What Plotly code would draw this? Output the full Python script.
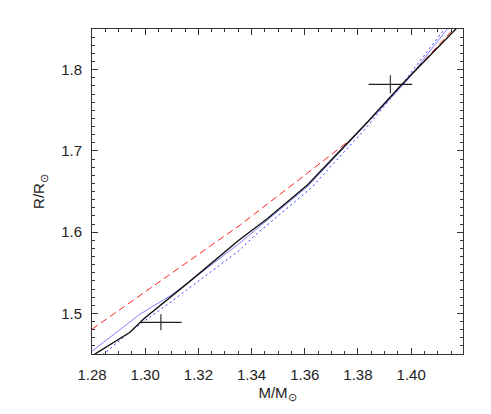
import plotly.graph_objects as go

# Black solid model
black_m = [1.2800, 1.2943, 1.2994, 1.3170, 1.3352, 1.3459, 1.3610, 1.3837, 1.3962, 1.4163, 1.4180]
black_r = [1.4477, 1.4767, 1.4930, 1.5400, 1.5900, 1.6165, 1.6580, 1.7358, 1.7807, 1.8480, 1.8540]

# Blue solid model
blue_m = [1.2800, 1.2981, 1.3094, 1.3150, 1.3352, 1.3610, 1.3837, 1.3981, 1.4140]
blue_r = [1.4535, 1.4991, 1.5216, 1.5350, 1.5855, 1.6560, 1.7350, 1.7850, 1.8520]

# Blue dotted model
dot_m = [1.2840, 1.2956, 1.3094, 1.3352, 1.3409, 1.3623, 1.3824, 1.3950, 1.4130]
dot_r = [1.4490, 1.4808, 1.5135, 1.5770, 1.5950, 1.6540, 1.7258, 1.7750, 1.8520]

# Red dashed model
red_m = [1.2800, 1.3358, 1.3610, 1.3700, 1.3786, 1.3843, 1.3962, 1.4160]
red_r = [1.4805, 1.6090, 1.6726, 1.6950, 1.7174, 1.7380, 1.7807, 1.8500]

# Observed components with errors
obs_m = [1.3059, 1.3922]
obs_r = [1.4890, 1.7819]
obs_em = [0.0078, 0.0082]
obs_er = [0.0098, 0.0112]

FONT = "Liberation Sans, Arial, sans-serif"

fig = go.Figure()
fig.add_trace(go.Scatter(x=red_m, y=red_r, mode="lines",
                         line=dict(color="#ff2020", width=1, dash="7px,4px")))
fig.add_trace(go.Scatter(x=dot_m, y=dot_r, mode="lines",
                         line=dict(color="#3030ff", width=1, dash="2px,3px")))
fig.add_trace(go.Scatter(x=blue_m, y=blue_r, mode="lines",
                         line=dict(color="#6060ff", width=0.8)))
fig.add_trace(go.Scatter(x=black_m, y=black_r, mode="lines",
                         line=dict(color="#111111", width=1.4)))
fig.add_trace(go.Scatter(x=obs_m, y=obs_r, mode="markers",
                         marker=dict(size=1, color="rgba(0,0,0,0)"),
                         error_x=dict(type="data", array=obs_em, width=0, thickness=1.3, color="#222222"),
                         error_y=dict(type="data", array=obs_er, width=0, thickness=1.3, color="#444444")))

axis_common = dict(
    showline=True, linecolor="#333333", linewidth=1, mirror="allticks",
    ticks="inside", ticklen=6, tickcolor="#333333", tickwidth=1,
    showgrid=False, zeroline=False,
    tickfont=dict(family=FONT, size=15, color="#222222"),
)

# page body has an 8px default margin, so the figure is drawn 8px smaller
fig.update_layout(
    width=483, height=406,
    margin=dict(l=84, r=28, t=21, b=60),
    paper_bgcolor="white", plot_bgcolor="white",
    showlegend=False,
    font=dict(family=FONT, size=15, color="#222222"),
    xaxis=dict(range=[1.28, 1.4195], tick0=1.28, dtick=0.02, tickformat=".2f",
               minor=dict(ticks="inside", ticklen=3, dtick=0.005, tick0=1.28, tickcolor="#333333", showgrid=False),
               ticklabelstandoff=7,
               title=dict(text="M/M<sub>⊙</sub>", standoff=5,
                          font=dict(family=FONT, size=15, color="#222222")),
               **axis_common),
    yaxis=dict(range=[1.45, 1.85], tick0=1.5, dtick=0.1, tickformat=".1f",
               minor=dict(ticks="inside", ticklen=3, dtick=0.01, tick0=1.45, tickcolor="#333333", showgrid=False),
               ticklabelstandoff=6,
               title=dict(text="R/R<sub>⊙</sub>", standoff=12,
                          font=dict(family=FONT, size=15, color="#222222")),
               **axis_common),
)

fig.write_html("out.html")
